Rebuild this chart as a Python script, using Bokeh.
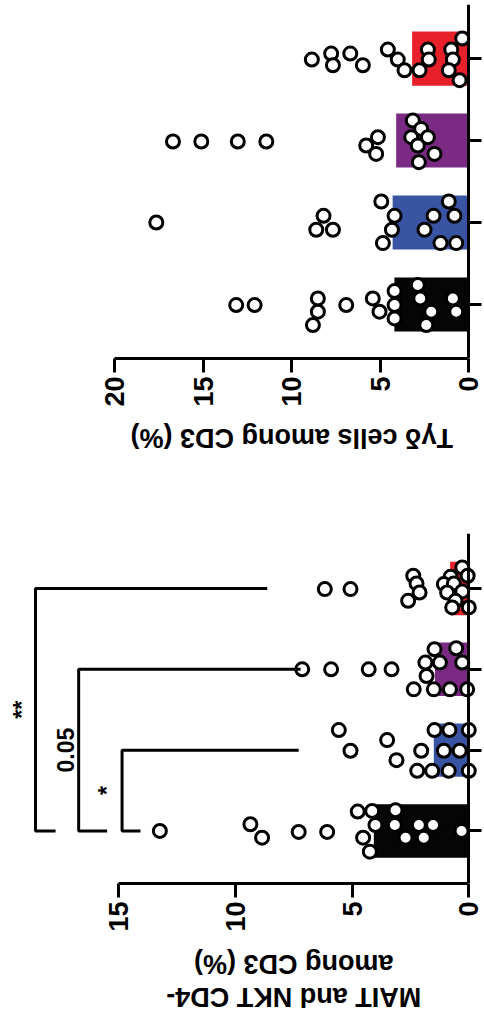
import math
import numpy as np
from bokeh.plotting import figure
from bokeh.models import Range1d, FixedTicker
from bokeh.core.properties import value
from bokeh.embed import file_html
from bokeh.resources import INLINE

# ---------------- data ----------------
groups = ["Group 1", "Group 2", "Group 3", "Group 4"]
colors = ["#050505", "#3A54A4", "#7B2A83", "#E8202A"]
x_ticks = [0, 5, 10, 15, 20]
x_ticks_b = [0, 5, 10, 15]

# Panel A: Tgd cells among CD3 (%)
tgd_title = ["T\u03b3\u03b4 cells among CD3 (%)"]
tgd_bar = [4.2, 4.3, 4.1, 3.2]
tgd_g1 = [2.88, 4.19, 2.74, 0.90, 5.42, 4.19, 2.12, 0.71, 4.19, 2.40, 5.04, 8.52, 8.52, 8.80, 6.92, 13.13, 12.09]
tgd_g1_jit = [0.236, 0.163, 0.073, 0.073, 0.073, -0.008, -0.089, -0.089, -0.171, -0.252, -0.089, 0.073, -0.089, -0.252, -0.008, -0.008, -0.008]
tgd_g2 = [4.94, 1.13, 4.19, 1.99, 0.81, 8.20, 8.61, 7.67, 4.34, 2.50, 4.85, 1.60, 0.71, 17.64]
tgd_g2_jit = [0.256, 0.256, 0.081, 0.081, 0.081, 0.081, -0.089, -0.089, -0.089, -0.089, -0.252, -0.252, -0.252, 0.0]
tgd_g3 = [3.16, 2.69, 3.25, 2.31, 2.88, 1.94, 2.82, 5.13, 5.79, 5.23, 16.70, 15.10, 13.04, 11.43]
tgd_g3_jit = [0.244, 0.142, 0.041, 0.041, -0.061, -0.163, -0.264, 0.041, -0.061, -0.163, -0.012, -0.012, -0.012, -0.012]
tgd_g4 = [0.37, 4.57, 2.31, 0.99, 4.01, 2.26, 0.90, 8.86, 7.77, 6.69, 7.67, 5.98, 3.63, 2.78, 1.13, 0.52]
tgd_g4_jit = [0.244, 0.110, 0.110, 0.110, -0.012, -0.012, -0.012, -0.012, 0.061, 0.061, -0.081, -0.081, -0.142, -0.142, -0.142, -0.264]

# Panel B: MAIT and NKT CD4- among CD3 (%)
mait_title = ["MAIT and NKT CD4-", "among CD3 (%)"]
mait_bar = [4.07, 1.5, 1.45, 0.8]
mait_g1 = [13.24, 9.36, 8.86, 7.29, 6.07, 4.76, 4.14, 3.14, 4.00, 3.17, 2.14, 1.53, 0.31, 4.53, 2.71, 1.93, 4.24]
mait_g1_jit = [0.0, 0.083, -0.083, -0.012, -0.012, 0.24, 0.248, 0.256, 0.074, 0.074, 0.074, 0.074, 0.0, -0.083, -0.083, -0.083, -0.256]
mait_g2 = [5.57, 5.07, 3.50, 3.10, 2.04, 1.47, 0.83, 0.0, 1.07, 0.39, 2.21, 1.57, 0.86, 0.0]
mait_g2_jit = [0.248, -0.008, 0.124, -0.124, -0.008, 0.248, 0.248, 0.248, -0.008, -0.008, -0.256, -0.256, -0.256, -0.256]
mait_g3 = [7.14, 5.90, 4.29, 3.31, 1.47, 0.54, 1.86, 1.24, 0.28, 1.81, 2.36, 1.50, 0.81, 0.07]
mait_g3_jit = [0, 0, 0, 0, 0.248, 0.26, 0.083, 0.083, 0.083, -0.083, -0.248, -0.248, -0.248, -0.248]
mait_g4 = [6.17, 5.07, 2.38, 2.24, 2.11, 2.60, 0.28, 0.78, 0.05, 1.07, 0.64, 0.93, 0.28, 0.57, 0.71, 0.0]
mait_g4_jit = [-0.008, -0.008, 0.157, 0.062, -0.05, -0.153, 0.26, 0.144, 0.157, 0.054, 0.062, -0.05, -0.037, -0.153, -0.235, -0.235]

# significance brackets (group 1 vs group 2/3/4)
sig_labels = ["*", "0.05", "**"]
sig_target = [1, 2, 3]
sig_x = [14.86, 16.72, 18.57]
sig_end_target = [7.29, 7.21, 8.64]
sig_end_ref = [14.07, 15.5, 17.71]
sig_label_x = [15.5, 17.3, 19.15]

FONT = "Liberation Sans"
COMMON = dict(output_backend="svg", toolbar_location=None)


def style(p, ticks, bounds):
    p.grid.visible = False
    p.outline_line_color = None
    p.background_fill_color = "white"
    xa = p.xaxis[0]
    xa.ticker = FixedTicker(ticks=ticks)
    xa.bounds = bounds
    xa.minor_tick_line_color = None
    xa.major_tick_in = 0
    xa.major_tick_out = 14
    xa.axis_line_width = 3
    xa.major_tick_line_width = 3
    xa.major_label_orientation = math.pi / 2
    xa.major_label_standoff = 4
    xa.major_label_text_font = FONT
    xa.major_label_text_font_style = "bold"
    xa.major_label_text_font_size = "27px"
    xa.major_label_text_color = "black"
    ya = p.yaxis[0]
    ya.fixed_location = 0
    ya.ticker = FixedTicker(ticks=[0, 1, 2, 3])
    ya.minor_tick_line_color = None
    ya.major_tick_in = 13
    ya.major_tick_out = 0
    ya.axis_line_width = 3
    ya.major_tick_line_width = 3
    ya.major_label_text_font_size = "1px"
    ya.major_label_text_alpha = 0
    ya.major_label_standoff = 0


def draw(p, bars, pts, jits):
    p.hbar(y=list(range(len(groups))), left=0, right=bars, height=0.66,
           fill_color=colors, line_color=None)
    for i, (v, j) in enumerate(zip(pts, jits)):
        ys = list(i + np.array(j))
        p.scatter(x=v, y=ys, size=13, marker="circle", fill_color="white",
                  line_color="black", line_width=3)


def title_fig(x_range, fw, fh, left, texts, xs, ys):
    t = figure(frame_width=fw, frame_height=fh, x_range=x_range,
               y_range=Range1d(0, 1), x_axis_location=None, y_axis_location=None,
               min_border_left=left, min_border_right=0, min_border_top=0,
               min_border_bottom=0, **COMMON)
    t.grid.visible = False
    t.outline_line_color = None
    t.text(x=xs, y=ys, text=texts, angle=math.pi, text_align="center",
           text_baseline="middle", text_font=value(FONT), text_font_style="bold",
           text_font_size="27px", text_color="black")
    return t


# ---------------- panel A ----------------
p1 = figure(frame_width=368, frame_height=354, x_range=Range1d(20, -0.773),
            y_range=Range1d(-0.66, 3.66), y_axis_location="left",
            min_border_left=114, min_border_right=0, min_border_top=4,
            min_border_bottom=55, **COMMON)
style(p1, x_ticks, (0, 20))
draw(p1, tgd_bar, [tgd_g1, tgd_g2, tgd_g3, tgd_g4],
     [tgd_g1_jit, tgd_g2_jit, tgd_g3_jit, tgd_g4_jit])
t1 = title_fig(p1.x_range, 368, 120, 114, tgd_title, [10], [0.8])

# ---------------- panel B ----------------
p2 = figure(frame_width=483, frame_height=350, x_range=Range1d(20.07, -0.63),
            y_range=Range1d(-0.65, 3.68), y_axis_location="left",
            min_border_left=0, min_border_right=0, min_border_top=0,
            min_border_bottom=55, **COMMON)
style(p2, x_ticks_b, (0, 15))
draw(p2, mait_bar, [mait_g1, mait_g2, mait_g3, mait_g4],
     [mait_g1_jit, mait_g2_jit, mait_g3_jit, mait_g4_jit])

xs, ys = [], []
for xv, t, et, er in zip(sig_x, sig_target, sig_end_target, sig_end_ref):
    xs.append([et, xv, xv, er])
    ys.append([t, t, 0, 0])
p2.multi_line(xs=xs, ys=ys, line_color="black", line_width=3)
p2.text(x=sig_label_x, y=[t / 2 for t in sig_target], text=sig_labels,
        angle=math.pi / 2, text_align="center", text_baseline="middle",
        text_font=value(FONT), text_font_style="bold", text_font_size="23px",
        text_color="black")
t2 = title_fig(p2.x_range, 483, 88, 0, mait_title, [7.5, 7.5], [0.33, 0.71])

open("out.html", "w").write(file_html([p1, t1, p2, t2], INLINE))
